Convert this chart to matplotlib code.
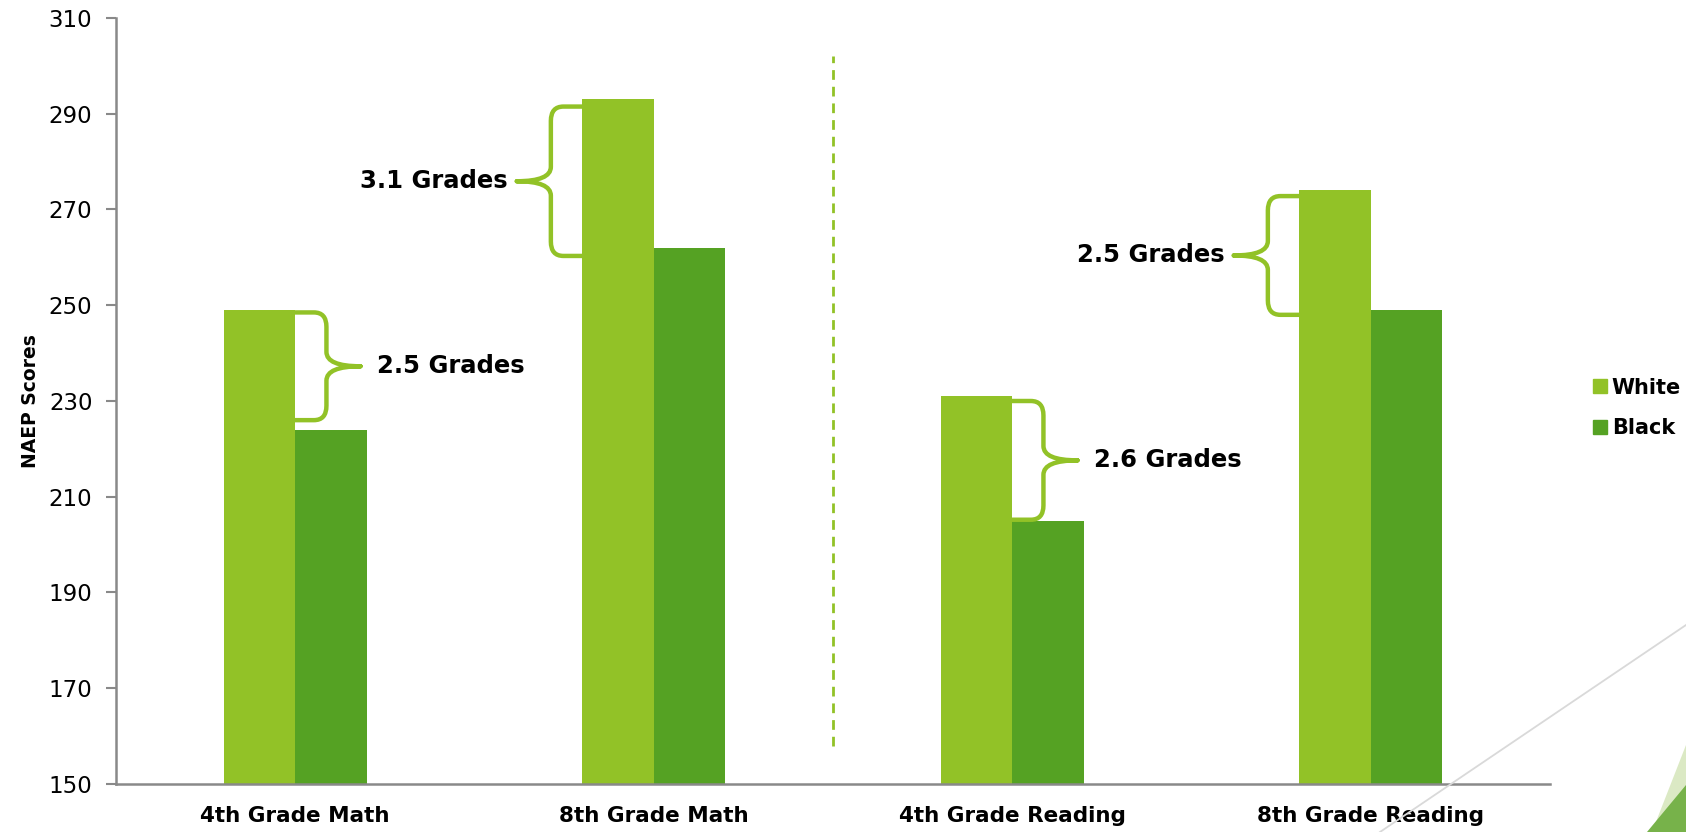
import numpy as np
import matplotlib
matplotlib.use("Agg")
import matplotlib.pyplot as plt
from matplotlib.path import Path
from matplotlib.patches import PathPatch, Polygon
from matplotlib.lines import Line2D

plt.rcParams['font.family'] = ['DejaVu Sans']

# data
categories = ['4th Grade Math', '8th Grade Math', '4th Grade Reading', '8th Grade Reading']
white = [249, 293, 231, 274]
black = [224, 262, 205, 249]

# gap annotations: label, brace top, brace bottom, side (+1 right of white bar, -1 left)
gap_labels = ['2.5 Grades', '3.1 Grades', '2.6 Grades', '2.5 Grades']
brace_top = [248.5, 291.5, 230.0, 272.8]
brace_bot = [226.0, 260.3, 205.2, 248.0]
brace_side = [1, -1, 1, -1]

c_white = '#92C227'
c_black = '#55A223'

fig = plt.figure(figsize=(16.86, 8.32), dpi=100)
ax = fig.add_axes([116/1686, 1-784/832, (1550-116)/1686, (784-18)/832])

x = np.arange(len(categories))
w = 0.2
ax.bar(x - w/2, white, w, color=c_white, label='White', zorder=2)
ax.bar(x + w/2, black, w, color=c_black, label='Black', zorder=2)

ax.set_ylim(150, 310)
ax.set_xlim(-0.5, 3.5)
ax.set_yticks(np.arange(150, 311, 20))
ax.set_xticks(x)
ax.set_xticklabels(categories, fontsize=15.5, fontweight='bold')
ax.tick_params(axis='y', labelsize=16.5, length=7, width=1.5, color='#898989', pad=10)
ax.tick_params(axis='x', length=0, pad=16)
for s in ['top', 'right']:
    ax.spines[s].set_visible(False)
for s in ['left', 'bottom']:
    ax.spines[s].set_color('#898989')
    ax.spines[s].set_linewidth(1.8)
ax.set_ylabel('NAEP Scores', fontsize=13.5, fontweight='bold')
ax.yaxis.set_label_coords(-0.053, 0.5)

# divider between math and reading
ax.plot([1.5, 1.5], [158, 302], color=c_white, lw=2, ls=(0, (3.5, 2.5)), zorder=1)


def brace(xedge, ytop, ybot, d):
    h, t, rx, r = 0.087, 0.095, 0.035, 3.0
    xv = xedge + d * h
    xt = xv + d * t
    ym = (ytop + ybot) / 2
    verts = [(xedge, ytop), (xv - d * rx, ytop), (xv, ytop), (xv, ytop - r),
             (xv, ym + r), (xv, ym), (xt, ym),
             (xt, ym), (xv, ym), (xv, ym - r),
             (xv, ybot + r), (xv, ybot), (xv - d * rx, ybot), (xedge, ybot)]
    codes = [Path.MOVETO, Path.LINETO, Path.CURVE3, Path.CURVE3,
             Path.LINETO, Path.CURVE3, Path.CURVE3,
             Path.MOVETO, Path.CURVE3, Path.CURVE3,
             Path.LINETO, Path.CURVE3, Path.CURVE3, Path.LINETO]
    p = PathPatch(Path(verts, codes), fill=False, edgecolor=c_white, lw=3.2,
                  capstyle='round', joinstyle='round', zorder=3)
    ax.add_patch(p)
    return xt, ym


for i in range(len(categories)):
    d = brace_side[i]
    xedge = x[i] if d > 0 else x[i] - w
    xt, ym = brace(xedge, brace_top[i], brace_bot[i], d)
    off = 0.045 if d > 0 else 0.025
    ax.text(xt + d * off, ym, gap_labels[i], fontsize=17.5, fontweight='bold',
            ha='left' if d > 0 else 'right', va='center')

# legend
handles = [Line2D([], [], marker='s', ls='', color=c_white, markersize=9.5),
           Line2D([], [], marker='s', ls='', color=c_black, markersize=9.5)]
fig.legend(handles, ['White', 'Black'], loc='center left',
           bbox_to_anchor=(1571/1686, 1-408/832), frameon=False,
           prop={'size': 15, 'weight': 'bold'}, handletextpad=0.05,
           handlelength=1.0, labelspacing=1.0)

# slide decoration in the corner
fig.add_artist(Line2D([1380/1686, 1], [0, 1-625/832], transform=fig.transFigure,
                      color='#d9d9d9', lw=1.3))
fig.add_artist(Polygon([(1686/1686, 1-745/832), (1652/1686, 0), (1, 0)],
                       closed=True, transform=fig.transFigure,
                       facecolor='#dbe9c4', edgecolor='none'))
fig.add_artist(Polygon([(1686/1686, 1-785/832), (1647/1686, 0), (1, 0)],
                       closed=True, transform=fig.transFigure,
                       facecolor='#77b24a', edgecolor='none'))

fig.savefig('out.png', dpi=100)
